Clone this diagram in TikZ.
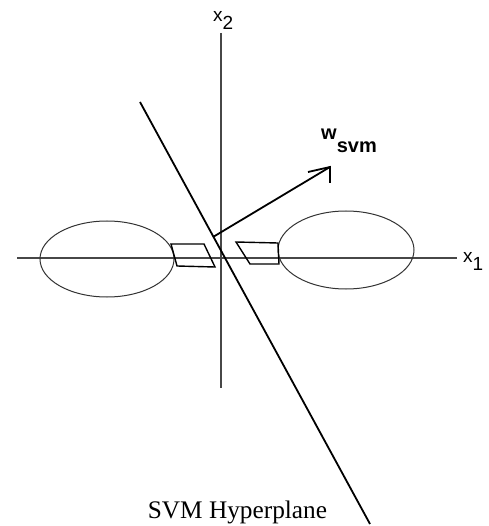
\documentclass[tikz,border=0pt]{standalone}
\usepackage{fontspec}
\setmainfont{Liberation Serif}
\setsansfont{Liberation Sans}
\begin{document}
\begin{tikzpicture}[x=1pt,y=-1pt,
  axis/.style={draw=black!72, line width=1.4pt},
  hyper/.style={draw=black, line width=1.8pt},
  cluster/.style={draw=black!80, line width=1pt},
  marginbox/.style={draw=black, line width=1.4pt, line join=miter},
  wvec/.style={draw=black, line width=1.8pt},
  lab/.style={font=\sffamily\fontsize{19}{19}\selectfont, inner sep=0pt, anchor=base west},
  titletext/.style={font=\rmfamily\fontsize{25.3}{26}\selectfont, inner sep=0pt, anchor=base}]
\useasboundingbox (0,0) rectangle (488,526);
\fill[white] (0,0) rectangle (488,526);
% axes
\coordinate (h1) at (17,258);
\coordinate (h2) at (457,258);
\coordinate (v1) at (221,33);
\coordinate (v2) at (221,388);
\draw[axis] (h1) -- (h2);
\draw[axis] (v1) -- (v2);
% clusters
\coordinate (cl) at (107,259);
\coordinate (cr) at (346,250);
\draw[cluster] (cl) ellipse [x radius=67, y radius=38];
\draw[cluster] (cr) ellipse [x radius=68, y radius=39];
% margin parallelograms
\draw[marginbox] (171,244) -- (204,244) -- (215,267) -- (177,266) -- cycle;
\draw[marginbox] (236,242) -- (278,243) -- (279,264) -- (250,264) -- cycle;
% hyperplane
\coordinate (p1) at (140,102);
\coordinate (p2) at (370,524);
\draw[hyper] (p1) -- (p2);
% weight vector
\coordinate (w0) at (213,237);
\coordinate (wt) at (330,167);
\coordinate (wa) at (308,172);
\coordinate (wb) at (330,183);
\draw[wvec] (w0) -- (wt);
\draw[wvec, line join=miter] (wa) -- (wt) -- (wb);
% labels
\node[lab] (x1) at (463,262) {x\raisebox{-8pt}{1}};
\node[lab] (x2) at (213,22) {x\raisebox{-8pt}{2}};
\node[lab, font=\sffamily\bfseries\fontsize{20}{20}\selectfont] (wl) at (321,140) {w\raisebox{-13pt}{svm}};
\node[titletext] (title) at (237.5,518) {SVM Hyperplane};
\end{tikzpicture}
\end{document}
